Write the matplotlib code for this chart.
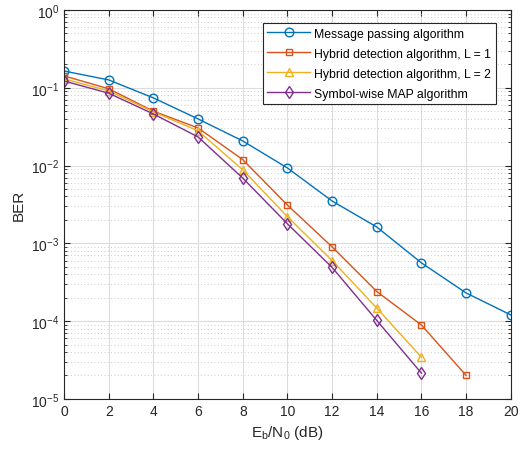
import matplotlib.pyplot as plt
from matplotlib.ticker import LogLocator, NullFormatter

plt.rcParams['font.family'] = 'Liberation Sans'
plt.rcParams['mathtext.fontset'] = 'custom'
plt.rcParams['mathtext.rm'] = 'Liberation Sans'
plt.rcParams['mathtext.it'] = 'Liberation Sans:italic'

# ===== DATA =====
snr_mp = [0, 2, 4, 6, 8, 10, 12, 14, 16, 18, 20]
ber_mp = [0.164, 0.126, 0.074, 0.0397, 0.0207, 0.0093, 0.0035, 0.00162, 0.00056, 0.00023, 0.00012]

snr_l1 = [0, 2, 4, 6, 8, 10, 12, 14, 16, 18]
ber_l1 = [0.142, 0.097, 0.050, 0.0304, 0.0119, 0.0031, 0.0009, 0.00024, 0.000089, 0.00002]

snr_l2 = [0, 2, 4, 6, 8, 10, 12, 14, 16]
ber_l2 = [0.13, 0.091, 0.049, 0.0279, 0.0088, 0.0022, 0.0006, 0.000147, 0.0000343]

snr_map = [0, 2, 4, 6, 8, 10, 12, 14, 16]
ber_map = [0.122, 0.085, 0.046, 0.0233, 0.0069, 0.00178, 0.00049, 0.000102, 0.0000214]

labels = ['Message passing algorithm',
          'Hybrid detection algorithm, L = 1',
          'Hybrid detection algorithm, L = 2',
          'Symbol-wise MAP algorithm']

# ===== PLOT =====
fig = plt.figure(figsize=(5.25, 4.56), dpi=100)
ax = fig.add_axes([0.122, 0.123, 0.851, 0.853])

ax.semilogy(snr_mp, ber_mp, '-o', color='#0072BD', lw=1, ms=6.2, mfc='none', mew=1, label=labels[0])
ax.semilogy(snr_l1, ber_l1, '-s', color='#D95319', lw=1, ms=5, mfc='none', mew=1, label=labels[1])
ax.semilogy(snr_l2, ber_l2, '-^', color='#EDB120', lw=1, ms=6, mfc='none', mew=1, label=labels[2])
ax.semilogy(snr_map, ber_map, '-d', color='#7E2F8E', lw=1, ms=6.5, mfc='none', mew=1, label=labels[3])

ax.set_xlim(0, 20)
ax.set_ylim(1e-5, 1)
ax.set_xticks(range(0, 21, 2))
ax.yaxis.set_minor_locator(LogLocator(base=10, subs=range(2, 10), numticks=20))
ax.yaxis.set_minor_formatter(NullFormatter())

ax.grid(True, which='major', color='#dcdcdc', lw=0.8)
ax.grid(True, which='minor', axis='y', color='#bdbdbd', lw=0.6, ls=(0, (1, 3)))
ax.set_axisbelow(True)

ax.tick_params(which='both', direction='in', top=True, right=True, labelsize=10, colors='#262626')
ax.tick_params(which='major', length=4)
ax.tick_params(which='minor', length=2)
for s in ax.spines.values():
    s.set_color('#262626')
    s.set_linewidth(0.8)

ax.set_xlabel(r'E$_\mathrm{b}$/N$_\mathrm{0}$ (dB)', fontsize=11, color='#262626')
ax.set_ylabel('BER', fontsize=11, color='#262626')

leg = ax.legend(loc='upper right', fontsize=8.8, fancybox=False, framealpha=1,
                edgecolor='#262626', borderpad=0.4, labelspacing=0.65,
                handlelength=3.5, handletextpad=0.3, borderaxespad=0,
                bbox_to_anchor=(0.966, 0.967))
leg.get_frame().set_linewidth(0.8)

plt.savefig('out.png', dpi=100)
